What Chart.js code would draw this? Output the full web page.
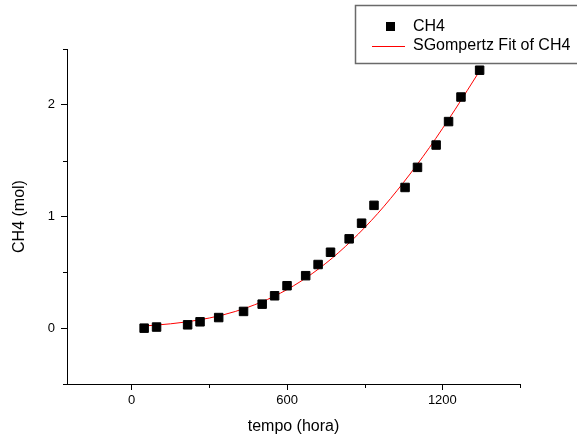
<!DOCTYPE html>
<html>
<head>
<meta charset="utf-8">
<script src="https://cdn.jsdelivr.net/npm/chart.js@4/dist/chart.umd.min.js"></script>
<style>
  html, body { margin: 0; padding: 0; background: #fff; overflow: hidden; }
  #wrap { width: 577px; height: 439px; }
</style>
</head>
<body>
<div id="wrap"><canvas id="myChart"></canvas></div>
<script>
// measured CH4 (mol) against time (hours)
const tempo = [48, 96, 216, 264, 336, 432, 504, 552, 600, 672, 720, 768, 840, 888, 936, 1056, 1104, 1176, 1224, 1272, 1344];
const ch4 = [0.00, 0.01, 0.03, 0.057, 0.095, 0.15, 0.215, 0.29, 0.38, 0.47, 0.57, 0.68, 0.80, 0.94, 1.10, 1.26, 1.44, 1.64, 1.85, 2.07, 2.31];

// SGompertz fit curve, sampled
const fitX = [50, 150, 250, 350, 450, 550, 650, 750, 850, 950, 1050, 1150, 1250, 1343];
const fitY = [0.02, 0.039, 0.07, 0.117, 0.188, 0.285, 0.415, 0.581, 0.785, 1.026, 1.305, 1.617, 1.961, 2.30];

const xTicks = [0, 300, 600, 900, 1200, 1500];
const xLabelled = [0, 600, 1200];
const yTicks = [-0.5, 0, 0.5, 1, 1.5, 2, 2.5];
const yLabelled = [0, 1, 2];

const FONT = "Arial, 'Liberation Sans', sans-serif";

const minorTicks = {
  id: "minorTicks",
  afterDraw(chart) {
    const ctx = chart.ctx;
    const xs = chart.scales.x;
    const ys = chart.scales.y;
    ctx.save();
    ctx.strokeStyle = "#000";
    ctx.lineWidth = 1;
    ctx.beginPath();
    xTicks.filter(v => !xLabelled.includes(v)).forEach(v => {
      const px = Math.round(xs.getPixelForValue(v)) + 0.5;
      ctx.moveTo(px, xs.top);
      ctx.lineTo(px, xs.top + 4);
    });
    yTicks.filter(v => !yLabelled.includes(v)).forEach(v => {
      const py = Math.round(ys.getPixelForValue(v)) + 0.5;
      ctx.moveTo(ys.right, py);
      ctx.lineTo(ys.right - 4, py);
    });
    ctx.stroke();
    ctx.restore();
  }
};

// boxed legend in the top right corner, running off the right edge
const boxLegend = {
  id: "boxLegend",
  afterDraw(chart) {
    const ctx = chart.ctx;
    ctx.save();
    ctx.strokeStyle = "#6a6a6a";
    ctx.lineWidth = 1.5;
    ctx.beginPath();
    ctx.moveTo(620, 5.5);
    ctx.lineTo(355.5, 5.5);
    ctx.lineTo(355.5, 63.5);
    ctx.lineTo(620, 63.5);
    ctx.stroke();

    ctx.fillStyle = "#000";
    ctx.fillRect(386, 22, 9, 9);

    ctx.strokeStyle = "#ff0000";
    ctx.lineWidth = 1;
    ctx.beginPath();
    ctx.moveTo(372, 46.5);
    ctx.lineTo(405, 46.5);
    ctx.stroke();

    ctx.font = "16px " + FONT;
    ctx.textBaseline = "middle";
    ctx.textAlign = "left";
    ctx.fillStyle = "#000";
    ctx.fillText("CH4", 413, 27);
    ctx.fillText("SGompertz Fit of CH4", 413, 46);
    ctx.restore();
  }
};

new Chart(document.getElementById("myChart"), {
  type: "scatter",
  data: {
    datasets: [
      {
        label: "CH4",
        data: tempo.map((t, i) => ({ x: t, y: ch4[i] })),
        pointStyle: "rect",
        pointRadius: 6,
        pointHoverRadius: 6,
        pointBorderWidth: 1,
        backgroundColor: "#000",
        borderColor: "#000",
        showLine: false,
        order: 1,
      },
      {
        label: "SGompertz Fit of CH4",
        data: fitX.map((t, i) => ({ x: t, y: fitY[i] })),
        showLine: true,
        borderColor: "#ff0000",
        borderWidth: 1,
        pointRadius: 0,
        cubicInterpolationMode: "monotone",
        order: 2,
      },
    ],
  },
  options: {
    responsive: true,
    maintainAspectRatio: false,
    animation: false,
    events: [],
    layout: { padding: { top: 49, right: 57, left: 0, bottom: 0 } },
    plugins: {
      legend: { display: false },
      tooltip: { enabled: false },
    },
    scales: {
      x: {
        type: "linear",
        min: -250,
        max: 1500,
        afterBuildTicks: (scale) => { scale.ticks = xTicks.map(v => ({ value: v })); },
        afterFit: (scale) => { scale.height = 55; },
        ticks: {
          autoSkip: false,
          maxRotation: 0,
          padding: 3,
          color: "#000",
          font: { family: FONT, size: 13 },
          callback: (v) => (xLabelled.includes(v) ? String(v) : ""),
        },
        grid: {
          drawOnChartArea: false,
          tickLength: 6,
          tickColor: (c) => (c.tick && xLabelled.includes(c.tick.value) ? "#000" : "rgba(0,0,0,0)"),
        },
        border: { display: true, color: "#000", width: 1 },
        title: {
          display: true,
          text: "tempo (hora)",
          color: "#000",
          font: { family: FONT, size: 16 },
          padding: { top: 0, bottom: 3 },
        },
      },
      y: {
        type: "linear",
        min: -0.5,
        max: 2.5,
        afterBuildTicks: (scale) => { scale.ticks = yTicks.map(v => ({ value: v })); },
        afterFit: (scale) => { scale.width = 67; },
        ticks: {
          autoSkip: false,
          padding: 6,
          color: "#000",
          font: { family: FONT, size: 13 },
          callback: (v) => (yLabelled.includes(v) ? String(v) : ""),
        },
        grid: {
          drawOnChartArea: false,
          tickLength: 6,
          tickColor: (c) => (c.tick && yLabelled.includes(c.tick.value) ? "#000" : "rgba(0,0,0,0)"),
        },
        border: { display: true, color: "#000", width: 1 },
        title: {
          display: true,
          text: "CH4 (mol)",
          color: "#000",
          font: { family: FONT, size: 16 },
          padding: { top: 10, bottom: 0 },
        },
      },
    },
  },
  plugins: [minorTicks, boxLegend],
});
</script>
</body>
</html>
